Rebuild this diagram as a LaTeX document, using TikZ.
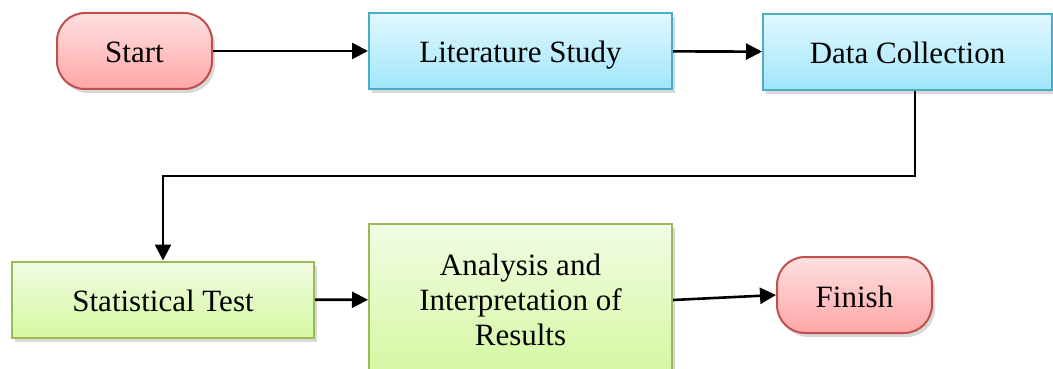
\documentclass[tikz,border=0pt]{standalone}
\usepackage{fontspec}
\setmainfont{Liberation Serif}
\usetikzlibrary{arrows.meta,shadows}

\definecolor{termline}{RGB}{192,80,77}
\definecolor{termtop}{RGB}{255,224,224}
\definecolor{termbot}{RGB}{255,166,166}
\definecolor{blueline}{RGB}{75,172,198}
\definecolor{bluetop}{RGB}{226,248,255}
\definecolor{bluebot}{RGB}{160,230,250}
\definecolor{greenline}{RGB}{155,187,89}
\definecolor{greentop}{RGB}{242,252,228}
\definecolor{greenbot}{RGB}{212,248,160}

\begin{document}
\begin{tikzpicture}[x=1pt,y=1pt,>={Triangle[length=16pt,width=16pt]},
    flow/.style={line width=2.6pt,->},
    oneline/.style={text height=27pt,text depth=3pt},
    term/.style={rectangle,rounded corners=28pt,draw=termline,line width=2pt,oneline,
        top color=termtop,bottom color=termbot,minimum width=155pt,minimum height=76pt,
        drop shadow={opacity=0.3,shadow xshift=3pt,shadow yshift=-4pt}},
    bluebox/.style={rectangle,draw=blueline,line width=2pt,oneline,
        top color=bluetop,bottom color=bluebot,minimum height=76pt,
        drop shadow={opacity=0.3,shadow xshift=3pt,shadow yshift=-4pt}},
    greenbox/.style={rectangle,draw=greenline,line width=2pt,
        top color=greentop,bottom color=greenbot,minimum height=76pt,
        drop shadow={opacity=0.3,shadow xshift=3pt,shadow yshift=-4pt}}]

                \clip (0,0) rectangle (1053,-369);
                \fill[white] (0,0) rectangle (1053,-369);

                \fontsize{31}{35}\selectfont

                % top row
                \node[term] (start) at(134.5,-51) {Start};
                \node[bluebox,minimum width=303pt] (litstudy) at(520.5,-51) {Literature Study};
                \node[bluebox,minimum width=289pt] (datacoll) at(907.5,-52) {Data Collection};

                % bottom row
                \node[greenbox,oneline,minimum width=302pt] (stattest) at(163,-299.5) {Statistical Test};
                \node[greenbox,minimum width=303pt,minimum height=152pt,align=center] (analysis) at(520.5,-300)
                    {Analysis and\\Interpretation of\\Results};
                \node[term] (finish) at(854.5,-295) {Finish};

                \coordinate (turn) at(915,-176);

                \draw[flow] (start) -- (litstudy);
                \draw[flow] (litstudy) -- (datacoll);
                \draw[flow] (datacoll.south -| turn) -- (turn) -| (stattest.north);
                \draw[flow] (stattest) -- (analysis);
                \draw[flow] (analysis.east) -- (finish.west);

            \end{tikzpicture}
\end{document}
